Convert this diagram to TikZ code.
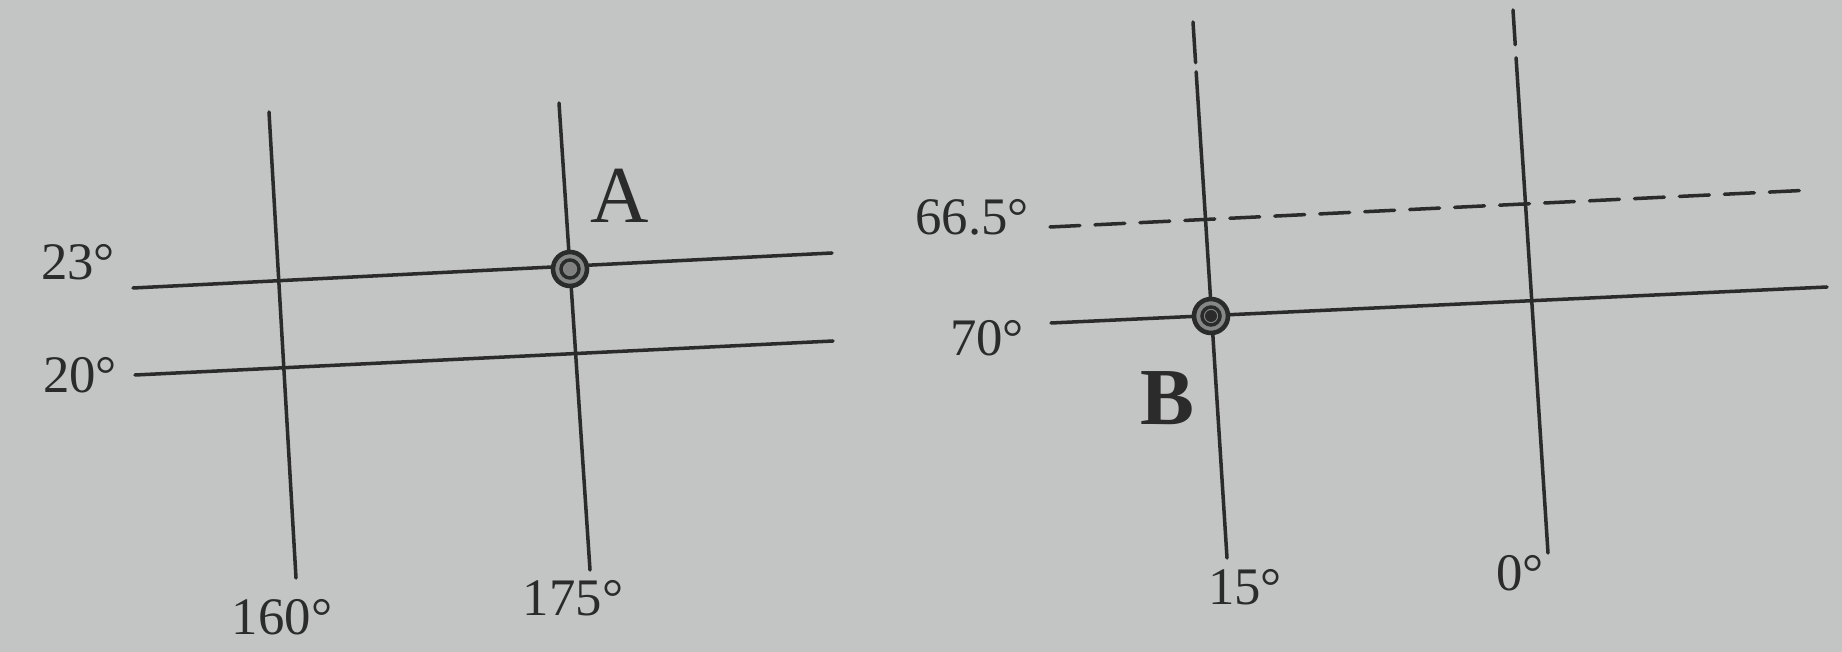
\documentclass[tikz,border=0pt]{standalone}
\usepackage{fontspec}
\setmainfont{Liberation Serif}
\usepackage{xcolor}
\usetikzlibrary{positioning,calc}
\definecolor{gdPaper}{HTML}{C3C5C4}
\definecolor{gdInk}{HTML}{2B2B2B}
\tikzset{
  % grid lines of latitude and longitude
  gline/.style={line width=1pt,draw=gdInk,line cap=round},
  gdash/.style={gline,dash pattern=on 8.5pt off 4.3pt},
  % degree labels
  deg/.style={font=\fontsize{15}{18}\selectfont,text=gdInk,inner sep=0pt},
  % place letters
  plc/.style={font=\fontsize{23}{26}\selectfont,text=gdInk,inner sep=0pt},
}
\newcommand{\gdspot}[2]{%
  \fill[gdPaper!60!gdInk] (#1) circle (17);
  \draw[gdInk,line width=1.3pt] (#1) circle (17);
  \draw[gdInk,line width=1pt] (#1) circle (9);
  \fill[gdInk!#2] (#1) circle (6);}
\begin{document}
\begin{tikzpicture}[x=0.01cm,y=-0.01cm]
  \useasboundingbox (0,0) rectangle (1842,652);
  \fill[gdPaper] (0,0) rectangle (1842,652);

  % Left map
  \coordinate (n23w) at (133,288);  \coordinate (n23e) at (832,253);
  \coordinate (n20w) at (135,375);  \coordinate (n20e) at (833,341);
  \coordinate (m160n) at (269,112); \coordinate (m160s) at (296,578);
  \coordinate (m175n) at (559,103); \coordinate (m175s) at (590,570);
  \draw[gline] (n23w) -- (n23e);
  \draw[gline] (n20w) -- (n20e);
  \draw[gline] (m160n) -- (m160s);
  \draw[gline] (m175n) -- (m175s);

  \node[deg] (l23) at (78,262) {23°};
  \node[deg] (l20) at (80,375) {20°};
  \node[deg] (l160) at (282,617) {160°};
  \node[deg] (l175) at (573,598) {175°};

  \coordinate (ptA) at (570,269);
  \gdspot{ptA}{60}
  \node[plc] (lA) at (620,196) {A};

  % Right map
  \coordinate (n66w) at (1050,227); \coordinate (n66e) at (1812,190);
  \coordinate (n70w) at (1051,323); \coordinate (n70e) at (1827,287);
  \coordinate (m15n) at (1193,22);  \coordinate (m15s) at (1227,558);
  \coordinate (m0n) at (1513,10);   \coordinate (m0s) at (1548,553);
  \draw[gdash] (n66w) -- (n66e);
  \draw[gline] (n70w) -- (n70e);
  \draw[gline] (m15n) -- ($(m15n)!0.076!(m15s)$);
  \draw[gline] ($(m15n)!0.093!(m15s)$) -- (m15s);
  \draw[gline] (m0n) -- ($(m0n)!0.064!(m0s)$);
  \draw[gline] ($(m0n)!0.088!(m0s)$) -- (m0s);

  \node[deg] (l665) at (972,217) {66.5°};
  \node[deg] (l70) at (987,338) {70°};
  \node[deg] (l15) at (1245,587) {15°};
  \node[deg] (l0) at (1520,573) {0°};

  \coordinate (ptB) at (1211,316);
  \gdspot{ptB}{100}
  \node[plc,font=\fontsize{23}{26}\selectfont\bfseries] (lB) at (1167,398) {B};
\end{tikzpicture}
\end{document}
